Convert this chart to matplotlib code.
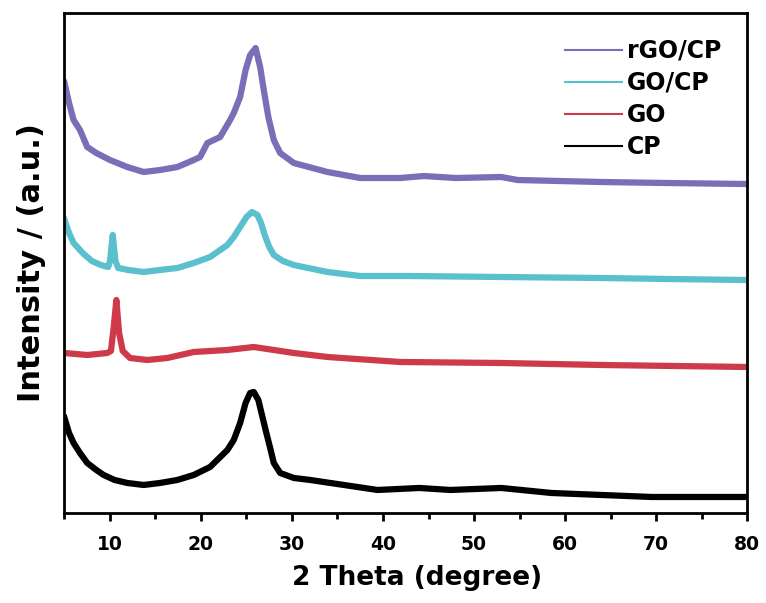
import numpy as np
import matplotlib.pyplot as plt
from matplotlib.lines import Line2D
from matplotlib.ticker import MultipleLocator

plt.rcParams['font.family'] = ['DejaVu Sans']
plt.rcParams['font.weight'] = 'bold'

# values (intensity in arbitrary units)
rgo_cp_x = [5, 5.5, 6, 6.7, 7.5, 8.5, 10, 11.9, 13.7, 15.5, 17.4, 19.2, 19.9, 20.7, 22.1, 23.2,
            23.6, 24.3, 24.9, 25.4, 26.0, 26.5, 26.9, 27.4, 28, 28.7, 30.2, 33.9, 37.5, 41.9,
            44.5, 48, 53, 54.8, 64, 71.3, 80]
rgo_cp_y = [430, 410, 393, 383, 366, 360, 353, 346, 341, 343, 346, 353, 356, 370, 376, 393,
            400, 416, 443, 458, 465, 446, 423, 396, 373, 360, 350, 341, 335, 335,
            337, 335, 336, 333, 331, 330, 329]

go_cp_x = [5, 5.5, 6, 7, 8, 9, 9.8, 10.0, 10.3, 10.6, 10.9, 12, 13.7, 15.5, 17.4, 19.2, 21,
           22.9, 23.6, 24.3, 25, 25.6, 26.2, 26.6, 27.0, 27.5, 28, 29, 30.2, 33.9, 37.5, 42.7,
           53, 64, 71.3, 80]
go_cp_y = [293, 280, 270, 260, 252, 248, 246, 252, 278, 252, 245, 243, 241, 243, 245, 250, 256,
           268, 276, 286, 296, 301, 298, 290, 278, 266, 258, 252, 248, 241, 237, 237,
           236, 235, 234, 233]

go_x = [5, 7.5, 9.7, 10.1, 10.4, 10.7, 11.0, 11.4, 12.2, 14.1, 16.3, 19.2, 22.9, 25.8, 30.2,
        33.9, 41.9, 53, 64, 80]
go_y = [160, 158, 160, 162, 185, 213, 180, 162, 155, 153, 155, 161, 163, 166, 160,
        156, 151, 150, 148, 146]

cp_x = [5, 5.5, 6, 6.7, 7.5, 8.5, 9.3, 10.5, 11.9, 13.7, 15.5, 17.4, 19.2, 21, 22.9, 23.6,
        24.3, 24.9, 25.4, 25.8, 26.3, 26.7, 27.1, 27.6, 28, 28.7, 30.2, 32, 35.7, 39.4, 44,
        47.4, 53, 58.5, 69.5, 80]
cp_y = [95, 80, 70, 60, 50, 43, 38, 33, 30, 28, 30, 33, 38, 46, 63, 73,
        90, 110, 120, 121, 113, 98, 83, 65, 50, 40, 35, 33, 28, 23, 25,
        23, 25, 20, 16, 16]

labels = ["rGO/CP", "GO/CP", "GO", "CP"]
colors = ["#7B6DB6", "#5BC0CD", "#CF3A4B", "#000000"]

fig = plt.figure(figsize=(7.66, 6.03), dpi=100)
ax = fig.add_axes([0.0842, 0.1493, 0.8910, 0.8291])

series = [(rgo_cp_x, rgo_cp_y), (go_cp_x, go_cp_y), (go_x, go_y), (cp_x, cp_y)]
for (xs, ys), c in zip(series, colors):
    ax.plot(xs, ys, color=c, linewidth=4.5, solid_joinstyle='round')

ax.set_xlim(5, 80)
ax.set_ylim(0, 500)
ax.xaxis.set_major_locator(MultipleLocator(10))
ax.xaxis.set_minor_locator(MultipleLocator(5))
ax.tick_params(axis='x', which='major', direction='out', length=6, width=2, labelsize=13.5, pad=10)
ax.tick_params(axis='x', which='minor', direction='out', length=4, width=2)
ax.set_yticks([])
for s in ax.spines.values():
    s.set_linewidth(2)

ax.set_xlabel("2 Theta (degree)", fontsize=19, fontweight='bold', labelpad=9)
ax.xaxis.set_label_coords(0.517, -0.105)
ax.set_ylabel("Intensity / (a.u.)", fontsize=22, fontweight='bold', labelpad=13)

handles = [Line2D([], [], color=c, linewidth=1.5) for c in colors]
ax.legend(handles, labels, loc='upper right', bbox_to_anchor=(0.993, 0.991), frameon=False,
          handlelength=2.4, labelspacing=0.34, handletextpad=0.2,
          prop={'weight': 'bold', 'size': 17})

fig.savefig("out.png", dpi=100)
